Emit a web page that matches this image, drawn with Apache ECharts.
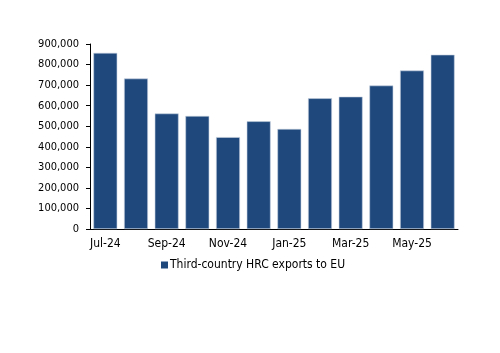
<!DOCTYPE html>
<html>
<head>
<meta charset="utf-8">
<script src="https://cdn.jsdelivr.net/npm/echarts@6/dist/echarts.min.js"></script>
<style>
	html, body { margin: 0; padding: 0; background: #fff; }
	#chart { width: 500px; height: 353px; }
</style>
</head>
<body>
<div id="chart"></div>
<script>
var months = ['Jul-24', 'Aug-24', 'Sep-24', 'Oct-24', 'Nov-24', 'Dec-24',
	'Jan-25', 'Feb-25', 'Mar-25', 'Apr-25', 'May-25', 'Jun-25'];
var exportsToEU = [857000, 732000, 562000, 550000, 447000, 524000,
	487000, 636000, 644000, 698000, 771000, 848000];
var seriesName = 'Third-country HRC exports to EU';

var myChart = echarts.init(document.getElementById('chart'));
var font = '"DejaVu Sans Condensed", "DejaVu Sans"';

var option = {
	animation: false,
	grid: {
		left: 90,
		right: 42,
		top: 44,
		bottom: 124
	},
	legend: {
		data: [seriesName],
		bottom: 77,
		left: 156,
		itemWidth: 7,
		itemHeight: 7,
		itemGap: 10,
		icon: 'rect',
		itemStyle: { borderWidth: 0 },
		textStyle: {
			fontFamily: font,
			fontSize: 12,
			color: '#000',
			padding: [0, 0, 0, -3]
		}
	},
	xAxis: {
		type: 'category',
		data: months,
		axisLine: { lineStyle: { color: '#000', width: 1 } },
		axisTick: {
			interval: 1,
			length: 4,
			lineStyle: { color: '#000' }
		},
		axisLabel: {
			interval: 1,
			margin: 9,
			fontFamily: font,
			fontSize: 12,
			color: '#000'
		}
	},
	yAxis: {
		type: 'value',
		min: 0,
		max: 900000,
		interval: 100000,
		splitLine: { show: false },
		axisLine: { show: true, lineStyle: { color: '#000', width: 1 } },
		axisTick: { show: true, length: 4, lineStyle: { color: '#000' } },
		axisLabel: {
			margin: 11,
			fontFamily: font,
			fontSize: 11,
			color: '#000',
			formatter: function(v) {
				return v.toLocaleString('en-US');
			}
		}
	},
	series: [{
		name: seriesName,
		type: 'bar',
		data: exportsToEU,
		barCategoryGap: '22%',
		itemStyle: {
			color: '#1F497D',
			borderColor: '#C9D3E0',
			borderWidth: 0.6
		}
	}]
};

myChart.setOption(option);
</script>
</body>
</html>
